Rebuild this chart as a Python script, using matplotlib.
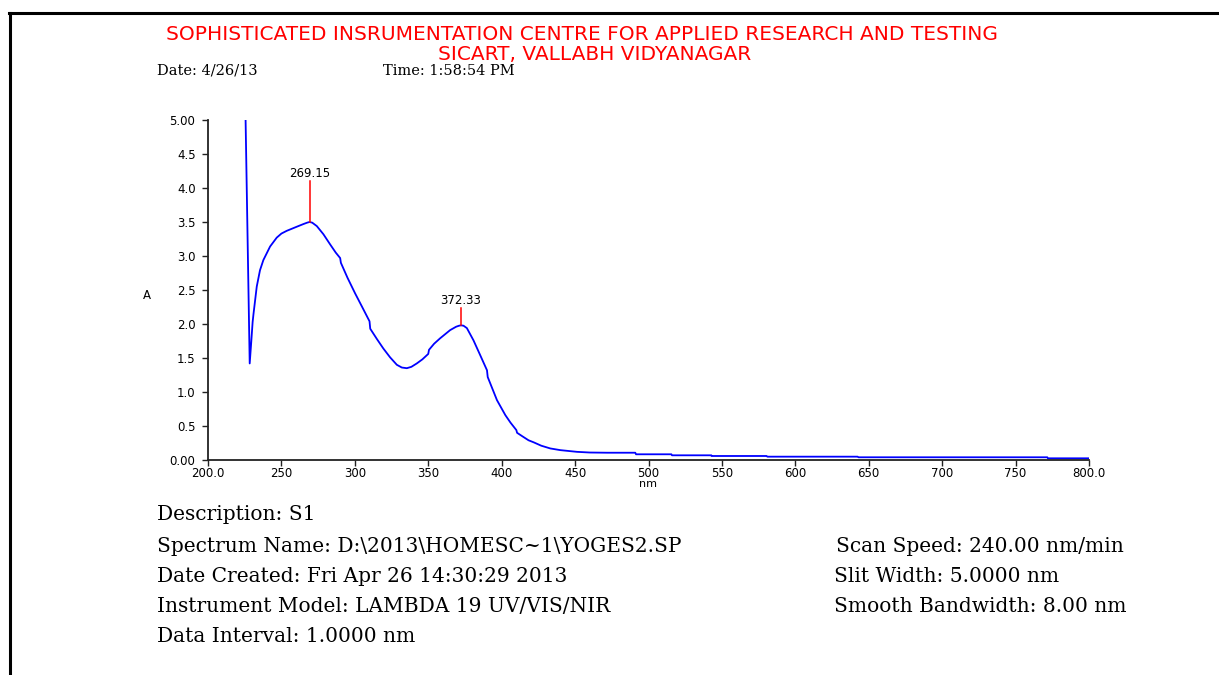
import matplotlib
matplotlib.use("Agg")
import matplotlib.pyplot as plt
from matplotlib.lines import Line2D

# ---- data ----
wavelength = [225.6, 228.4, 229.5, 230.4, 231.0, 233.2, 235.4, 237.7, 240.0, 242.3,
              246.8, 250.0, 253.6, 260.4, 265.0, 267.5, 269.15, 271.0, 274.1, 278.6,
              283.2, 287.0, 290.0, 290.5, 295.0, 300.2, 305.0, 310.0, 310.5, 315.0,
              319.4, 324.0, 328.6, 332.0, 335.4, 338.5, 342.2, 346.0, 350.0, 350.5,
              354.0, 358.1, 364.9, 369.0, 371.0, 372.33, 374.0, 376.3, 380.8, 385.0,
              390.0, 390.5, 396.8, 402.5, 406.0, 410.0, 410.5, 414.0, 418.3, 421.8,
              427.0, 433.1, 440.0, 451.3, 460.0, 471.8, 491.0, 491.5, 515.6, 516.0,
              542.8, 543.0, 580.4, 581.0, 642.4, 643.0, 771.6, 772.0, 800.0]
absorbance = [5.00, 1.42, 1.75, 2.03, 2.15, 2.55, 2.79, 2.94, 3.04, 3.14,
              3.27, 3.33, 3.37, 3.43, 3.47, 3.49, 3.50, 3.49, 3.44, 3.32,
              3.17, 3.05, 2.97, 2.90, 2.68, 2.45, 2.25, 2.04, 1.93, 1.78,
              1.64, 1.51, 1.40, 1.36, 1.35, 1.37, 1.42, 1.48, 1.56, 1.62,
              1.71, 1.79, 1.91, 1.96, 1.975, 1.98, 1.975, 1.94, 1.76, 1.56,
              1.32, 1.22, 0.88, 0.66, 0.55, 0.44, 0.40, 0.35, 0.29, 0.26,
              0.21, 0.17, 0.145, 0.12, 0.11, 0.107, 0.107, 0.084, 0.084, 0.069,
              0.069, 0.059, 0.059, 0.049, 0.049, 0.040, 0.040, 0.025, 0.025]

peak_wavelengths = [269.15, 372.33]
peak_values = [3.50, 1.98]
peak_line_tops = [4.10, 2.23]
peak_labels = ["269.15", "372.33"]

x_ticks = [200, 250, 300, 350, 400, 450, 500, 550, 600, 650, 700, 750, 800]
x_tick_labels = ["200.0", "250", "300", "350", "400", "450", "500", "550", "600",
                 "650", "700", "750", "800.0"]
y_ticks = [0.0, 0.5, 1.0, 1.5, 2.0, 2.5, 3.0, 3.5, 4.0, 4.5, 5.0]
y_tick_labels = ["0.00", "0.5", "1.0", "1.5", "2.0", "2.5", "3.0", "3.5", "4.0", "4.5", "5.00"]

title_lines = ["SOPHISTICATED INSRUMENTATION CENTRE FOR APPLIED RESEARCH AND TESTING",
               "SICART, VALLABH VIDYANAGAR"]
date_text = "Date: 4/26/13"
time_text = "Time: 1:58:54 PM"
left_info = ["Description: S1",
             "Spectrum Name: D:\\2013\\HOMESC~1\\YOGES2.SP",
             "Date Created: Fri Apr 26 14:30:29 2013",
             "Instrument Model: LAMBDA 19 UV/VIS/NIR",
             "Data Interval: 1.0000 nm"]
right_info = ["Scan Speed: 240.00 nm/min",
              "Slit Width: 5.0000 nm",
              "Smooth Bandwidth: 8.00 nm"]

# ---- figure ----
W, H = 1219, 675
fig = plt.figure(figsize=(W / 100, H / 100), dpi=100)
fig.patch.set_facecolor("white")

def fx(px):
    return px / W

def fy(py):
    return 1 - py / H

# border lines (top and left)
fig.add_artist(Line2D([fx(9), fx(1219)], [fy(13), fy(13)], color="black", lw=2.2,
                      transform=fig.transFigure))
fig.add_artist(Line2D([fx(10), fx(10)], [fy(13), fy(676)], color="black", lw=2.2,
                      transform=fig.transFigure))

sans = "DejaVu Sans"
serif = "DejaVu Serif"

fig.text(fx(582), fy(35), title_lines[0], color="#ff0000", family=sans, fontsize=14.5,
         ha="center", va="center")
fig.text(fx(595), fy(54), title_lines[1], color="#ff0000", family=sans, fontsize=14.5,
         ha="center", va="center")
fig.text(fx(157), fy(71), date_text, family=serif, fontsize=10.5, ha="left", va="center")
fig.text(fx(383), fy(71), time_text, family=serif, fontsize=10.5, ha="left", va="center")

# axes
ax_left, ax_right = 208, 1089
ax_top, ax_bottom = 120, 460
ax = fig.add_axes([fx(ax_left), fy(ax_bottom), (ax_right - ax_left) / W,
                   (ax_bottom - ax_top) / H])
ax.plot(wavelength, absorbance, color="#0000ff", lw=1.3, solid_joinstyle="round")
for xw, yv, yt, lab in zip(peak_wavelengths, peak_values, peak_line_tops, peak_labels):
    ax.plot([xw, xw], [yv, yt], color="#ff0000", lw=1.1)
    ax.text(xw, yt + 0.02, lab, family=sans, fontsize=8.5, ha="center", va="bottom")

ax.set_xlim(200, 800)
ax.set_ylim(0, 5)
ax.set_xticks(x_ticks)
ax.set_xticklabels(x_tick_labels)
ax.set_yticks(y_ticks)
ax.set_yticklabels(y_tick_labels)
for s in ["top", "right"]:
    ax.spines[s].set_visible(False)
for s in ["left", "bottom"]:
    ax.spines[s].set_linewidth(1.3)
    ax.spines[s].set_color("#222222")
ax.tick_params(direction="out", length=4, width=1, colors="#222222")
ax.tick_params(axis="x", pad=1)
ax.tick_params(axis="y", pad=5)
for lbl in ax.get_xticklabels() + ax.get_yticklabels():
    lbl.set_family(sans)
    lbl.set_fontsize(8.5)
    lbl.set_color("black")
ax.patch.set_alpha(0)

fig.text(fx(147), fy(295), "A", family=sans, fontsize=8.5, ha="center", va="center")
fig.text(fx(648), fy(484), "nm", family=sans, fontsize=8, ha="center", va="center")

# info text
left_y = [515, 546, 577, 606, 637]
for yy, t in zip(left_y, left_info):
    fig.text(fx(157), fy(yy), t, family=serif, fontsize=14.5, ha="left", va="center")
right_x = [836, 834, 834]
right_y = [546, 577, 606]
for xx, yy, t in zip(right_x, right_y, right_info):
    fig.text(fx(xx), fy(yy), t, family=serif, fontsize=14.5, ha="left", va="center")

fig.savefig("out.png", dpi=100)
